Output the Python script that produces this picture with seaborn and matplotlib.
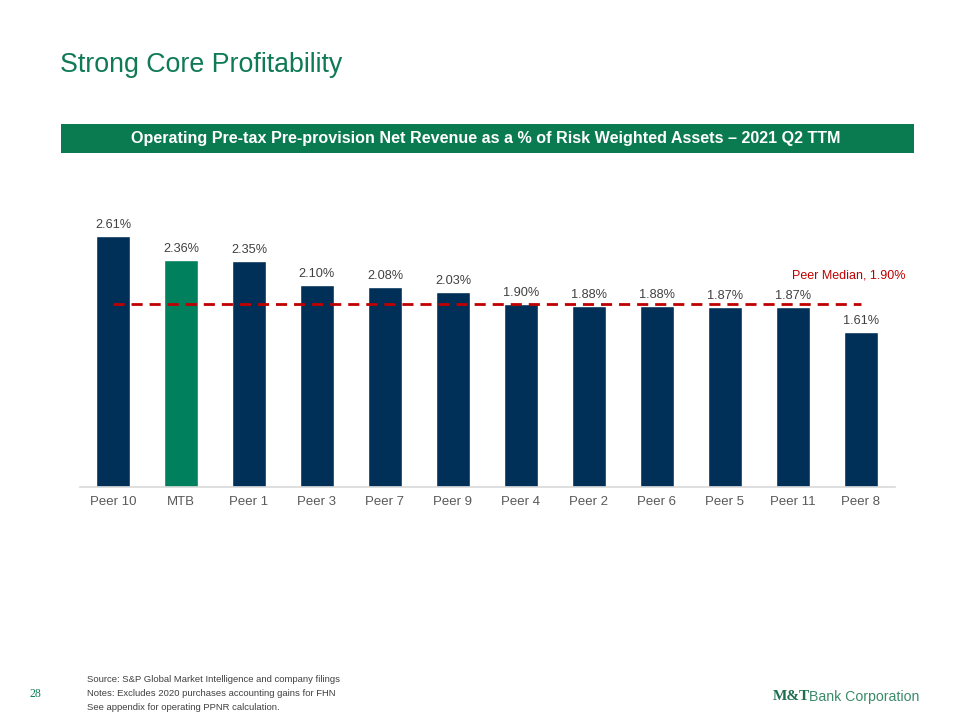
import matplotlib
matplotlib.use("Agg")
import matplotlib.pyplot as plt
import seaborn as sns
import pandas as pd
from matplotlib.patches import Rectangle

categories = ["Peer 10", "MTB", "Peer 1", "Peer 3", "Peer 7", "Peer 9",
              "Peer 4", "Peer 2", "Peer 6", "Peer 5", "Peer 11", "Peer 8"]
values = [2.61, 2.36, 2.35, 2.10, 2.08, 2.03, 1.90, 1.88, 1.88, 1.87, 1.87, 1.61]
peer_median = 1.90

NAVY = "#003057"
MTB_GREEN = "#00805C"
BANNER_GREEN = "#0A7A50"
TITLE_GREEN = "#107A57"
RED = "#C00000"
GRAY = "#404040"

sns.set_theme(style="white")
plt.rcParams["font.family"] = ["Liberation Sans", "DejaVu Sans"]

df = pd.DataFrame({"cat": categories, "val": values})
palette = {c: (MTB_GREEN if c == "MTB" else NAVY) for c in categories}

fig = plt.figure(figsize=(9.6, 7.2), dpi=100)
ax = fig.add_axes([80 / 960, 1 - 487 / 720, 815 / 960, 269.4 / 720])

sns.barplot(data=df, x="cat", y="val", hue="cat", palette=palette,
            order=categories, hue_order=categories, legend=False,
            width=0.5, saturation=1, ax=ax)

ax.set_xlim(-0.485, 11.5)
ax.set_ylim(0, 2.8)
ax.set_xlabel("")
ax.set_ylabel("")
ax.set_yticks([])
for s in ["top", "right", "left"]:
    ax.spines[s].set_visible(False)
ax.spines["bottom"].set_color("#D9D9D9")
ax.spines["bottom"].set_linewidth(1.2)
ax.tick_params(axis="x", length=0, pad=6.5, labelsize=9.5, labelcolor="#595959")

for i, v in enumerate(values):
    ax.annotate(f"{v:.2f}%", (i, v), xytext=(0, 3.5), textcoords="offset points",
                ha="center", va="bottom", fontsize=9.2, color=GRAY)

ax.plot([0, len(categories) - 1], [peer_median, peer_median], ls=(0, (4, 2.5)),
        color=RED, lw=2, zorder=5)
fig.text(905 / 960, 1 - 275 / 720, f"Peer Median, {peer_median:.2f}%",
         ha="right", va="center", fontsize=9, color=RED)

# Title
fig.text(60 / 960, 1 - 65 / 720, "Strong Core Profitability", ha="left",
         va="center", fontsize=19.3, color=TITLE_GREEN)

# Banner
fig.patches.append(Rectangle((61 / 960, 1 - 153 / 720), 853 / 960, 29 / 720,
                             transform=fig.transFigure, facecolor=BANNER_GREEN,
                             edgecolor="none", zorder=0))
fig.text(486 / 960, 1 - 138.5 / 720,
         "Operating Pre-tax Pre-provision Net Revenue as a % of Risk Weighted Assets \u2013 2021 Q2 TTM",
         ha="center", va="center", fontsize=11.6, fontweight="bold", color="white")

# Footnotes
notes = ["Source: S&P Global Market Intelligence and company filings",
         "Notes: Excludes 2020 purchases accounting gains for FHN",
         "See appendix for operating PPNR calculation."]
for k, t in enumerate(notes):
    fig.text(87 / 960, 1 - (680 + 14 * k) / 720, t, ha="left", va="center",
             fontsize=6.8, color=GRAY)
fig.text(30 / 960, 1 - 694 / 720, "28", ha="left", va="center", fontsize=8.5,
         color=TITLE_GREEN, family=["Liberation Serif", "DejaVu Serif"])

# Logo
fig.text(773 / 960, 1 - 697 / 720, "M&T", ha="left", va="center", fontsize=11,
         fontweight="bold", color="#1E6E50", family=["Liberation Serif", "DejaVu Serif"])
fig.text(809 / 960, 1 - 697 / 720, "Bank Corporation", ha="left", va="center",
         fontsize=10.2, color="#3A8A6A")

fig.savefig("out.png", dpi=100)
